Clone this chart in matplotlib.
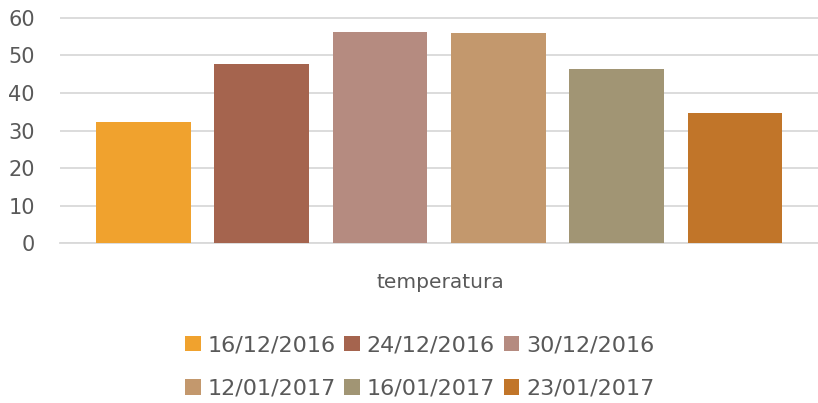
import matplotlib.pyplot as plt
from matplotlib.patches import Patch

# Data
series_labels = ["16/12/2016", "24/12/2016", "30/12/2016",
                 "12/01/2017", "16/01/2017", "23/01/2017"]
values = [32.3, 47.7, 56.2, 55.9, 46.4, 34.7]
colors = ["#F0A22E", "#A5644E", "#B58B80", "#C3986D", "#A19574", "#C17529"]
category = "temperatura"
y_ticks = [0, 10, 20, 30, 40, 50, 60]

TEXT_COLOR = "#595959"
GRID_COLOR = "#D9D9D9"

plt.rcParams["font.family"] = ["DejaVu Sans"]

fig = plt.figure(figsize=(8.18, 4.03), dpi=100)
ax = fig.add_axes([0.0733, 0.396, 0.927, 0.561])

positions = list(range(len(values)))
ax.bar(positions, values, width=0.8, color=colors, zorder=3)

ax.set_xlim(-0.705, 5.705)
ax.set_ylim(0, 60.1)
ax.set_yticks(y_ticks)
ax.set_xticks([])
ax.yaxis.grid(True, color=GRID_COLOR, linewidth=1.3, zorder=0)
ax.tick_params(axis="y", length=0, pad=18, labelsize=15, labelcolor=TEXT_COLOR)
for side in ["top", "right", "left"]:
    ax.spines[side].set_visible(False)
ax.spines["bottom"].set_color(GRID_COLOR)
ax.spines["bottom"].set_linewidth(1.3)

# category label under the bars
fig.text(0.538, 1 - 283 / 403, category, ha="center", va="center",
         fontsize=14.5, color=TEXT_COLOR)

# legend fills row by row in the reference; matplotlib fills by column
order = [0, 3, 1, 4, 2, 5]
handles = [Patch(facecolor=colors[i], edgecolor="none") for i in order]
labels = [series_labels[i] for i in order]
leg = fig.legend(handles, labels, loc="center", ncol=3,
                 bbox_to_anchor=(0.513, 1 - 367 / 403), frameon=False,
                 fontsize=16, handlelength=0.7, handleheight=0.7,
                 handletextpad=0.3, columnspacing=0.4, labelspacing=1.05)
for t in leg.get_texts():
    t.set_color(TEXT_COLOR)

fig.savefig("out.png", dpi=100)
